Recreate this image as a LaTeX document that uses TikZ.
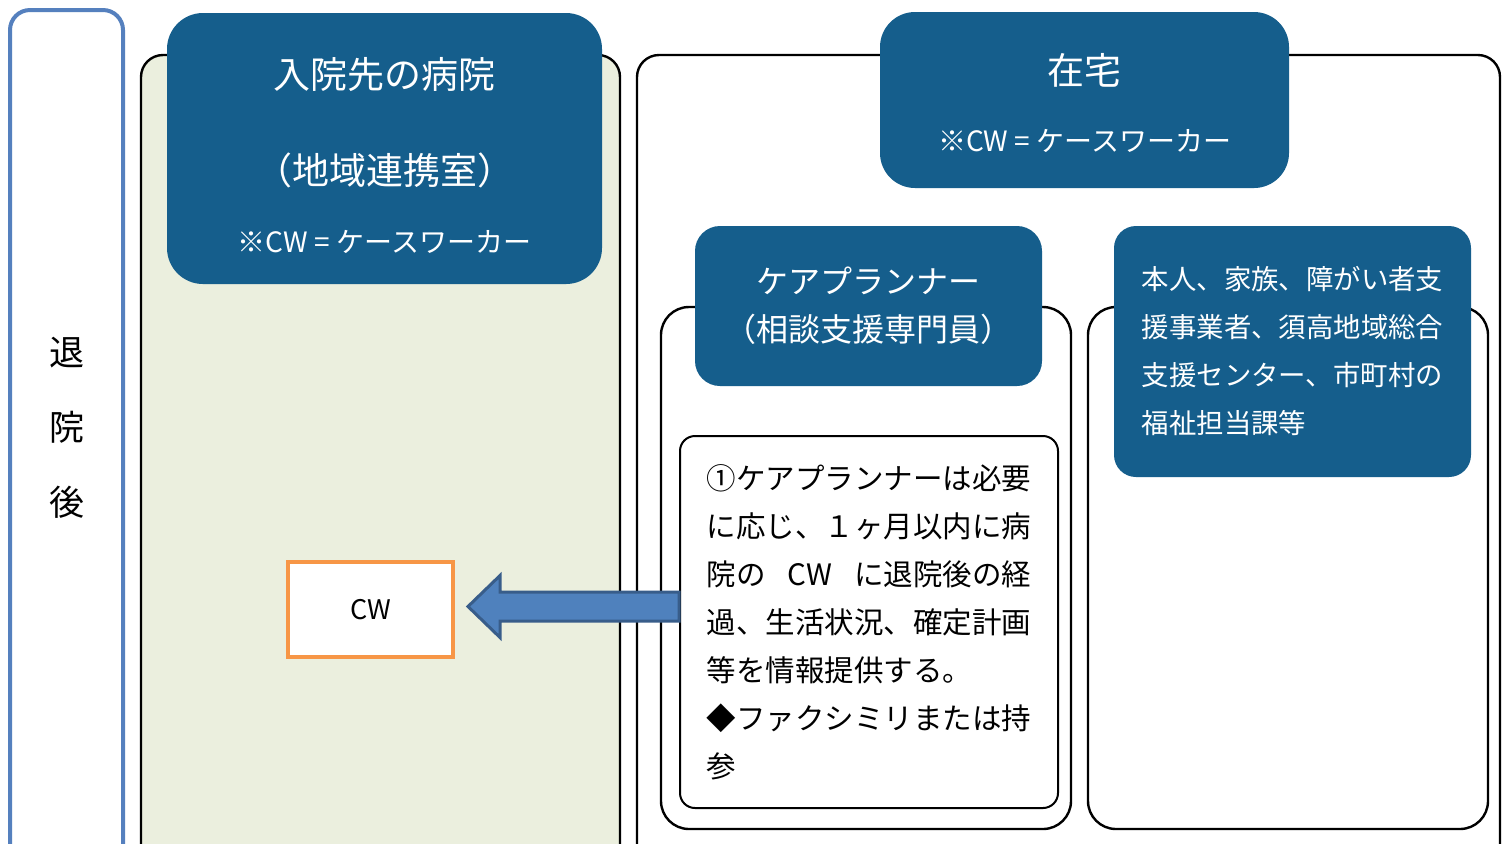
\documentclass[tikz,border=0pt]{standalone}
\usepackage{fontspec}
\setmainfont{Noto Sans CJK JP}
\usepackage{tikz}
\usetikzlibrary{positioning,calc}
\definecolor{headblue}{RGB}{21,94,140}
\definecolor{panelgreen}{RGB}{235,239,222}
\definecolor{sideblue}{RGB}{85,128,190}
\definecolor{cworange}{RGB}{247,150,70}
\definecolor{arrowblue}{RGB}{79,129,189}
\definecolor{arrowedge}{RGB}{56,93,138}
\def\px{0.5pt}
\tikzstyle{panel} = [rectangle, draw=black, line width=1.2pt, fill=white,
    rounded corners=11pt, inner sep=0pt]
\tikzstyle{head} = [rectangle, fill=headblue, text=white, inner sep=0pt]
\tikzstyle{headtext} = [text=white, inner sep=0pt]
\tikzstyle{infobox} = [rectangle, draw=black, line width=1pt, fill=white,
    rounded corners=7.5pt, align=left]
\tikzstyle{bigarrow} = [fill=arrowblue, draw=arrowedge, line width=1.5pt, line join=miter]

\begin{document}
\begin{tikzpicture}[x=\px,y=-\px]
    \clip (0,0) rectangle (1510,843);
    % Place panels
    \node[panel, draw=sideblue, line width=2pt, rounded corners=10pt,
        minimum width=113*\px, minimum height=860*\px] (side) at (66.5,440) {};
    \node[font=\fontsize{17.5}{37.5}\selectfont, align=center] (sidetext) at (67,428) {退\\院\\後};
    \node[panel, fill=panelgreen, minimum width=479*\px, minimum height=815*\px] (hosp) at (380.5,462.5) {};
    \node[panel, minimum width=863*\px, minimum height=815*\px] (home) at (1068.5,462.5) {};
    \node[panel, rounded corners=14pt, minimum width=410*\px, minimum height=522*\px] (care) at (866,568) {};
    \node[panel, rounded corners=14pt, minimum width=400*\px, minimum height=522*\px] (others) at (1288,568) {};
    % Arrow to the hospital CW
    \node[rectangle, draw=cworange, line width=2pt, fill=white, minimum width=165*\px,
        minimum height=95*\px, font=\fontsize{13.5}{16}\selectfont] (cw) at (370.5,609.5) {CW};
    \node[infobox, text width=162.25pt, inner xsep=13.375pt, minimum height=372*\px,
        font=\fontsize{14.75}{24}\selectfont] (info) at (869,622)
        {①ケアプランナーは必要\\
         に応じ、１ヶ月以内に病\\
         院の\hfill CW\hfill に退院後の経\\
         過、生活状況、確定計画\\
         等を情報提供する。\\
         ◆ファクシミリまたは持\\
         参};
    \coordinate (tip) at ($(cw.east)+(13,-3)$);
    \draw[bigarrow] (tip) -- ($(tip)+(32,-31)$) -- ($(tip)+(32,-14.5)$)
        -- ($(tip -| info.west)+(0,-14.5)$) -- ($(tip -| info.west)+(0,14.5)$)
        -- ($(tip)+(32,14.5)$) -- ($(tip)+(32,31)$) -- cycle;
    % Headers
    \node[head, rounded corners=18pt, minimum width=435*\px, minimum height=271*\px] (hosphead) at (384.5,148.5) {};
    \node[headtext, font=\fontsize{18.5}{22}\selectfont] (hosptitle) at (384.5,75) {入院先の病院};
    \node[headtext, font=\fontsize{18.5}{22}\selectfont, below of=hosptitle, node distance=95*\px] (hospsub) {（地域連携室）};
    \node[headtext, font=\fontsize{14}{16}\selectfont, below of=hospsub, node distance=72*\px] (hospnote) {※CW = ケースワーカー};
    \node[head, rounded corners=17.5pt, minimum width=409*\px, minimum height=176*\px] (homehead) at (1084.5,100) {};
    \node[headtext, font=\fontsize{18.5}{22}\selectfont] (hometitle) at (1084.5,70) {在宅};
    \node[headtext, font=\fontsize{14}{16}\selectfont, below of=hometitle, node distance=71*\px] (homenote) {※CW = ケースワーカー};
    \node[head, rounded corners=12.5pt, minimum width=347*\px, minimum height=160*\px, align=center,
        font=\fontsize{16}{24}\selectfont] (carehead) at (868.5,306) {ケアプランナー\\（相談支援専門員）};
    \node[head, rounded corners=11pt, text width=150.7pt, inner xsep=13.9pt, minimum height=251*\px, align=left,
        font=\fontsize{13.7}{24}\selectfont] (othershead) at (1292.5,351.5)
        {本人、家族、障がい者支\\援事業者、須高地域総合\\支援センター、市町村の\\福祉担当課等};
\end{tikzpicture}
\end{document}
